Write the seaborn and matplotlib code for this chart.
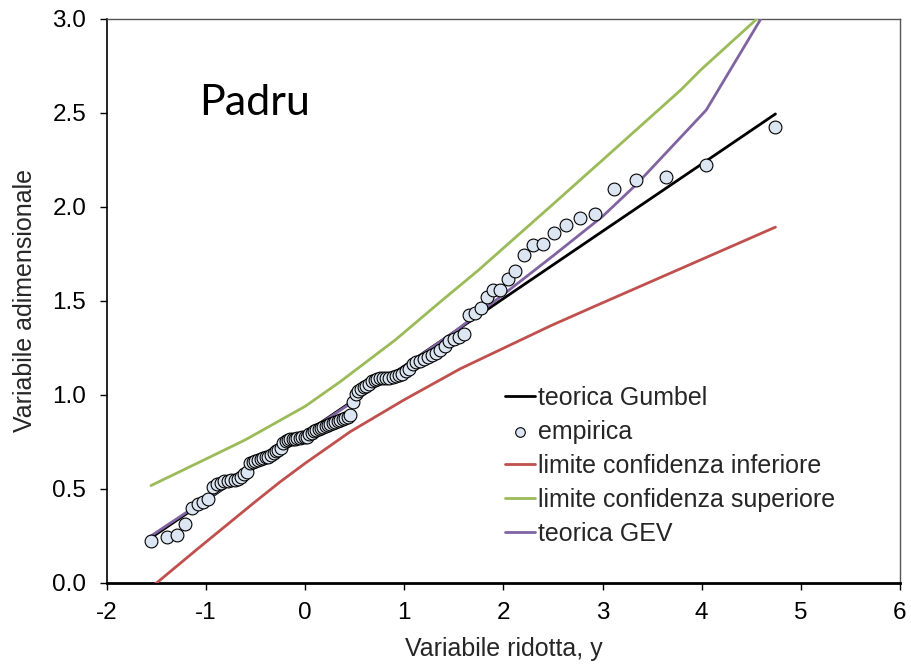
import matplotlib
matplotlib.use("Agg")
import matplotlib.pyplot as plt
import seaborn as sns
import pandas as pd

# ---- data -------------------------------------------------------------
# empirical points: reduced variable (x) and dimensionless variable (y)
emp_x = [-1.557, -1.399, -1.294, -1.212, -1.143, -1.083, -1.029, -0.980, -0.935, -0.893,
         -0.853, -0.815, -0.779, -0.745, -0.711, -0.679, -0.648, -0.618, -0.588, -0.559,
         -0.531, -0.503, -0.476, -0.449, -0.423, -0.397, -0.371, -0.346, -0.320, -0.296,
         -0.271, -0.246, -0.222, -0.198, -0.174, -0.150, -0.126, -0.102, -0.078, -0.054,
         -0.031, -0.007, 0.016, 0.040, 0.064, 0.087, 0.111, 0.135, 0.159, 0.183,
         0.207, 0.231, 0.255, 0.280, 0.304, 0.329, 0.354, 0.379, 0.404, 0.430,
         0.456, 0.482, 0.508, 0.534, 0.561, 0.588, 0.616, 0.644, 0.672, 0.700,
         0.729, 0.759, 0.789, 0.819, 0.850, 0.881, 0.914, 0.946, 0.980, 1.014,
         1.048, 1.084, 1.121, 1.158, 1.197, 1.236, 1.277, 1.318, 1.361, 1.406,
         1.452, 1.500, 1.550, 1.601, 1.656, 1.712, 1.771, 1.833, 1.898, 1.968,
         2.042, 2.121, 2.205, 2.298, 2.398, 2.507, 2.630, 2.768, 2.926, 3.115,
         3.341, 3.635, 4.046, 4.744]
emp_y = [0.225, 0.246, 0.255, 0.314, 0.400, 0.420, 0.430, 0.445, 0.512, 0.525,
         0.533, 0.540, 0.545, 0.548, 0.550, 0.555, 0.565, 0.580, 0.590, 0.637,
         0.645, 0.650, 0.655, 0.660, 0.665, 0.668, 0.672, 0.680, 0.690, 0.700,
         0.707, 0.720, 0.743, 0.755, 0.762, 0.765, 0.767, 0.768, 0.770, 0.772,
         0.774, 0.776, 0.778, 0.790, 0.800, 0.808, 0.815, 0.820, 0.825, 0.830,
         0.835, 0.840, 0.845, 0.850, 0.855, 0.860, 0.865, 0.870, 0.875, 0.885,
         0.895, 0.965, 1.005, 1.020, 1.030, 1.040, 1.050, 1.060, 1.075, 1.080,
         1.085, 1.090, 1.090, 1.090, 1.090, 1.095, 1.100, 1.105, 1.110, 1.125,
         1.140, 1.165, 1.175, 1.180, 1.190, 1.200, 1.215, 1.225, 1.240, 1.260,
         1.285, 1.300, 1.310, 1.325, 1.427, 1.435, 1.463, 1.520, 1.560, 1.560,
         1.615, 1.660, 1.745, 1.798, 1.803, 1.860, 1.906, 1.940, 1.961, 2.094,
         2.144, 2.161, 2.222, 2.427]

gumbel_x = [-1.557, 0.0, 1.0, 2.0, 3.0, 4.046, 4.744]
gumbel_y = [0.240, 0.797, 1.155, 1.513, 1.871, 2.245, 2.495]

gev_x = [-1.557, -1.0, -0.5, 0.0, 0.5, 1.0, 1.5, 2.0, 2.5, 3.0, 3.341, 3.635, 4.046, 4.744]
gev_y = [0.250, 0.445, 0.620, 0.795, 0.970, 1.150, 1.335, 1.535, 1.740, 1.950, 2.120, 2.285, 2.516, 3.130]

low_x = [-1.557, -1.078, -0.505, -0.253, 0.0, 0.455, 1.0, 1.566, 2.475, 2.912, 4.744]
low_y = [-0.025, 0.185, 0.432, 0.538, 0.637, 0.805, 0.975, 1.140, 1.368, 1.470, 1.893]

up_x = [-1.557, -1.0, -0.606, 0.0, 0.354, 0.909, 1.364, 1.750, 2.500, 3.000, 3.788, 3.990, 4.744]
up_y = [0.518, 0.660, 0.761, 0.940, 1.071, 1.293, 1.496, 1.665, 2.015, 2.250, 2.622, 2.729, 3.090]

labels = ["teorica Gumbel", "empirica", "limite confidenza inferiore",
          "limite confidenza superiore", "teorica GEV"]
x_ticks = [-2, -1, 0, 1, 2, 3, 4, 5, 6]
y_ticks = [0.0, 0.5, 1.0, 1.5, 2.0, 2.5, 3.0]

# ---- styling ----------------------------------------------------------
sns.set_theme(style="white")
plt.rcParams["font.family"] = ["Liberation Sans", "DejaVu Sans"]

fig = plt.figure(figsize=(9.12, 6.64), dpi=100)
ax = fig.add_axes([0.1173, 0.122, 0.8695, 0.8494])

lw = 2.0
sns.lineplot(data=pd.DataFrame({"x": gumbel_x, "y": gumbel_y}), x="x", y="y", ax=ax,
             color="black", lw=lw, label=labels[0], sort=False, zorder=3)
sns.lineplot(data=pd.DataFrame({"x": low_x, "y": low_y}), x="x", y="y", ax=ax,
             color="#C0504D", lw=lw, label=labels[2], sort=False, zorder=3)
sns.lineplot(data=pd.DataFrame({"x": up_x, "y": up_y}), x="x", y="y", ax=ax,
             color="#9BBB59", lw=lw, label=labels[3], sort=False, zorder=3)
sns.lineplot(data=pd.DataFrame({"x": gev_x, "y": gev_y}), x="x", y="y", ax=ax,
             color="#8064A2", lw=lw, label=labels[4], sort=False, zorder=3)
sns.scatterplot(data=pd.DataFrame({"x": emp_x, "y": emp_y}), x="x", y="y", ax=ax,
                s=85, color="#DCE6F2", edgecolor="black", linewidth=0.8,
                label=labels[1], zorder=4)

ax.set_xlim(-2, 6)
ax.set_ylim(0, 3)
ax.set_xticks(x_ticks)
ax.set_xticklabels([str(t) for t in x_ticks])
ax.set_yticks(y_ticks)
ax.set_yticklabels([f"{t:.1f}" for t in y_ticks])
ax.tick_params(axis="both", which="major", labelsize=17.5, direction="out",
               length=5, width=1, colors="black", bottom=True, left=True)
ax.tick_params(axis="y", pad=10)
ax.tick_params(axis="x", pad=9)
ax.grid(False)

for side in ["left", "bottom"]:
    ax.spines[side].set_color("black")
ax.spines["left"].set_linewidth(1.2)
ax.spines["bottom"].set_linewidth(2.0)
for side in ["top", "right"]:
    ax.spines[side].set_color("#555555")
    ax.spines[side].set_linewidth(1.0)

ax.set_xlabel("Variabile ridotta, y", fontsize=18, labelpad=9)
ax.set_ylabel("Variabile adimensionale", fontsize=18, labelpad=11)

ax.text(-1.07, 2.555, "Padru", fontsize=31, family=["Lato", "DejaVu Sans"],
        ha="left", va="center", color="black")

h, l = ax.get_legend_handles_labels()
hd = dict(zip(l, h))
leg = ax.legend([hd[s] for s in labels], labels, loc="upper left",
                bbox_to_anchor=(0.502, 0.350), frameon=False, fontsize=18,
                handlelength=1.2, handletextpad=0.12, labelspacing=0.4,
                borderpad=0, borderaxespad=0, markerscale=0.75)

fig.savefig("out.png", dpi=100)
